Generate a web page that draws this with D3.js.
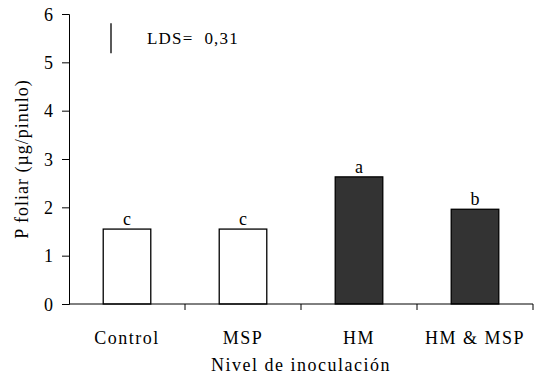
<!DOCTYPE html>
<html>
<head>
<meta charset="utf-8">
<script src="https://cdn.jsdelivr.net/npm/d3@7"></script>
<style>
  html, body { margin: 0; padding: 0; background: #fff; }
  svg text { font-family: "Liberation Serif", "Times New Roman", serif; fill: #000; }
</style>
</head>
<body>
<svg id="chart" width="537" height="376"></svg>
<script>
// P foliar por nivel de inoculación
const categories = ["Control", "MSP", "HM", "HM & MSP"];
const values = [1.55, 1.55, 2.63, 1.96];
const letters = ["c", "c", "a", "b"];
const fills = ["#ffffff", "#ffffff", "#333333", "#333333"];
const yTicks = [0, 1, 2, 3, 4, 5, 6];
const lds = 0.31;
const ldsCenter = 5.5;

const svg = d3.select("#chart");
const left = 69, right = 533;

const x = d3.scaleBand().domain(categories).range([left, right]).paddingInner(0).paddingOuter(0);
const y = d3.scaleLinear().domain([0, 6]).range([304, 14]);

const barW = x.bandwidth() * 0.41;

// bars
svg.append("g").selectAll("rect").data(categories).join("rect")
  .attr("x", (d) => x(d) + (x.bandwidth() - barW) / 2)
  .attr("y", (d, i) => y(values[i]))
  .attr("width", barW)
  .attr("height", (d, i) => y(0) - y(values[i]))
  .attr("fill", (d, i) => fills[i])
  .attr("stroke", "#000")
  .attr("stroke-width", 1.3);

// significance letters
svg.append("g").selectAll("text").data(categories).join("text")
  .attr("x", (d) => x(d) + x.bandwidth() / 2)
  .attr("y", (d, i) => y(values[i]) - 4)
  .attr("text-anchor", "middle")
  .attr("font-size", 18)
  .text((d, i) => letters[i]);

// y axis
const yAxis = d3.axisLeft(y).tickValues(yTicks).tickSize(7).tickFormat(d3.format("d"));
const gy = svg.append("g").attr("transform", `translate(${left},0)`).call(yAxis);
gy.attr("font-family", null);
gy.select(".domain").attr("stroke", "#000").attr("stroke-width", 1);
gy.selectAll(".tick line").attr("stroke", "#000");
gy.selectAll(".tick text").attr("font-size", 18).attr("x", -16).attr("dy", "0.34em");

// x axis: ticks at category boundaries
const gx = svg.append("g").attr("transform", `translate(0,${y(0)})`);
gx.append("line").attr("x1", left).attr("x2", right).attr("stroke", "#000");
const boundaries = categories.map((d) => x(d) + x.bandwidth());
gx.selectAll("line.b").data(boundaries).join("line").attr("class", "b")
  .attr("x1", (d) => d).attr("x2", (d) => d).attr("y1", 0).attr("y2", 6).attr("stroke", "#000");
gx.selectAll("text").data(categories).join("text")
  .attr("x", (d) => x(d) + x.bandwidth() / 2)
  .attr("y", 40)
  .attr("text-anchor", "middle")
  .attr("font-size", 18)
  .attr("letter-spacing", 1.5)
  .text((d) => d);

// axis titles
svg.append("text")
  .attr("x", 301).attr("y", 371)
  .attr("text-anchor", "middle").attr("font-size", 18)
  .attr("letter-spacing", 1.5)
  .text("Nivel de inoculación");
svg.append("text")
  .attr("transform", "translate(28,159) rotate(-90)")
  .attr("text-anchor", "middle").attr("font-size", 18)
  .attr("letter-spacing", 1.0)
  .text("P foliar (µg/pinulo)");

// LDS reference bar
svg.append("line")
  .attr("x1", 111).attr("x2", 111)
  .attr("y1", y(ldsCenter - lds)).attr("y2", y(ldsCenter + lds))
  .attr("stroke", "#000").attr("stroke-width", 1.3);
svg.append("text")
  .attr("x", 147).attr("y", 44)
  .attr("font-size", 17)
  .attr("letter-spacing", 1.2)
  .attr("xml:space", "preserve")
  .text("LDS=  " + String(lds).replace(".", ","));
</script>
</body>
</html>
